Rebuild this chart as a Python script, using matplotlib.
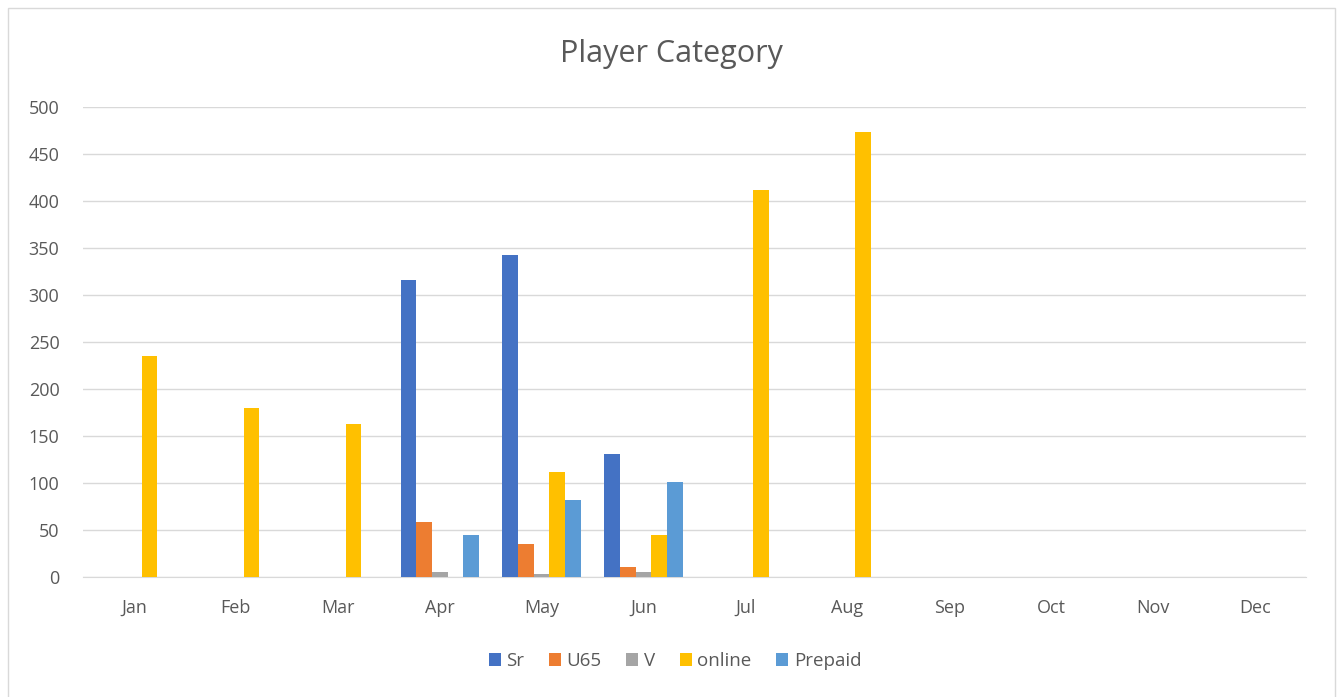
import numpy as np
import matplotlib.pyplot as plt
from matplotlib.patches import Rectangle

months = ["Jan", "Feb", "Mar", "Apr", "May", "Jun", "Jul", "Aug", "Sep", "Oct", "Nov", "Dec"]
sr = [0, 0, 0, 316, 343, 131, 0, 0, 0, 0, 0, 0]
u65 = [0, 0, 0, 58, 35, 11, 0, 0, 0, 0, 0, 0]
v = [0, 0, 0, 5, 3, 5, 0, 0, 0, 0, 0, 0]
online = [235, 180, 163, 0, 112, 45, 412, 473, 0, 0, 0, 0]
prepaid = [0, 0, 0, 45, 82, 101, 0, 0, 0, 0, 0, 0]

series = [("Sr", sr, "#4472C4"), ("U65", u65, "#ED7D31"), ("V", v, "#A5A5A5"),
          ("online", online, "#FFC000"), ("Prepaid", prepaid, "#5B9BD5")]

plt.rcParams['font.family'] = ['Open Sans', 'DejaVu Sans']

fig = plt.figure(figsize=(13.41, 6.97), dpi=100)
W, H = 1341, 697
ax = fig.add_axes([83 / W, 1 - 577 / H, (1306 - 83) / W, (577 - 107) / H])

# chart frame
fig.patches.append(Rectangle((8 / W, -0.01), (1335 - 8) / W, (697 - 8) / H + 0.01,
                             transform=fig.transFigure, fill=False,
                             edgecolor="#D9D9D9", linewidth=1))

x = np.arange(len(months))
w = 1 / 6.5
for i, (name, vals, col) in enumerate(series):
    ax.bar(x + (i - 2) * w, vals, width=w, color=col, label=name, zorder=3)

ax.set_xlim(-0.5, 11.5)
ax.set_ylim(0, 500)
ax.set_yticks(range(0, 501, 50))
ax.set_xticks(x)
ax.set_xticklabels(months)
ax.yaxis.grid(True, color="#D9D9D9", linewidth=1, zorder=0)
for s in ["top", "right", "left"]:
    ax.spines[s].set_visible(False)
ax.spines["bottom"].set_color("#D9D9D9")
ax.tick_params(axis="both", length=0, colors="#595959", labelsize=13)
ax.tick_params(axis="x", pad=16)
ax.tick_params(axis="y", pad=17)

fig.text(671 / W, 1 - 54 / H, "Player Category", ha="center", va="center",
         fontsize=22, color="#595959")

fig.legend(loc="center", bbox_to_anchor=(675 / W, 1 - 661 / H), ncol=5, frameon=False,
           fontsize=13.5, handlelength=0.65, handleheight=0.65, handletextpad=0.3,
           columnspacing=1.3, labelcolor="#595959")

fig.savefig("out.png", dpi=100)
